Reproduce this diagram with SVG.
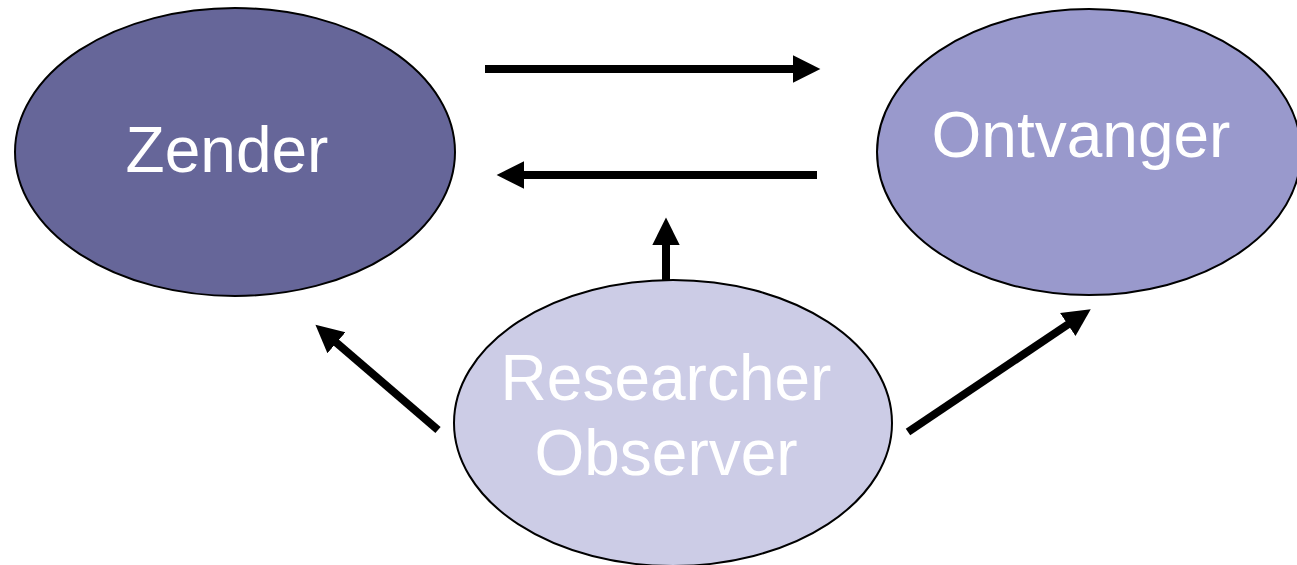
<svg xmlns="http://www.w3.org/2000/svg" width="1297" height="565" viewBox="0 0 1297 565">
<style>
.node{stroke:#000;stroke-width:2}
.lbl{font-family:"Liberation Sans",Arial,sans-serif;font-size:64px;fill:#fff;text-anchor:middle}
.conn{stroke:#000;stroke-width:8;fill:none;marker-end:url(#ah)}
</style>
<defs>
<marker id="ah" markerUnits="userSpaceOnUse" markerWidth="30" markerHeight="30" viewBox="0 -13 26 26" refX="2" refY="0" orient="auto">
<path d="M0,-12 L24,0 L0,12 z" fill="#000"/>
</marker>
</defs>
<rect width="1297" height="565" fill="#fff"/>
<g id="zender">
<ellipse class="node" cx="235" cy="152" rx="220" ry="144" fill="#666699"/>
<text class="lbl" x="227" y="172">Zender</text>
</g>
<g id="ontvanger">
<ellipse class="node" cx="1089" cy="152" rx="212" ry="143" fill="#9999CC"/>
<text class="lbl" x="1081" y="157">Ontvanger</text>
</g>
<g id="researcher">
<ellipse class="node" cx="673" cy="423" rx="219" ry="143" fill="#CCCCE6"/>
<text class="lbl" x="666" y="400">Researcher</text>
<text class="lbl" x="666" y="475">Observer</text>
</g>
<g id="connectors">
<line class="conn" x1="485" y1="69" x2="795" y2="69"/>
<line class="conn" x1="817" y1="175" x2="522" y2="175"/>
<line class="conn" x1="666" y1="280" x2="666" y2="243"/>
<line class="conn" x1="438" y1="430" x2="334.7" y2="341.3"/>
<line class="conn" x1="908" y1="432" x2="1069.7" y2="323.3"/>
</g>
</svg>
